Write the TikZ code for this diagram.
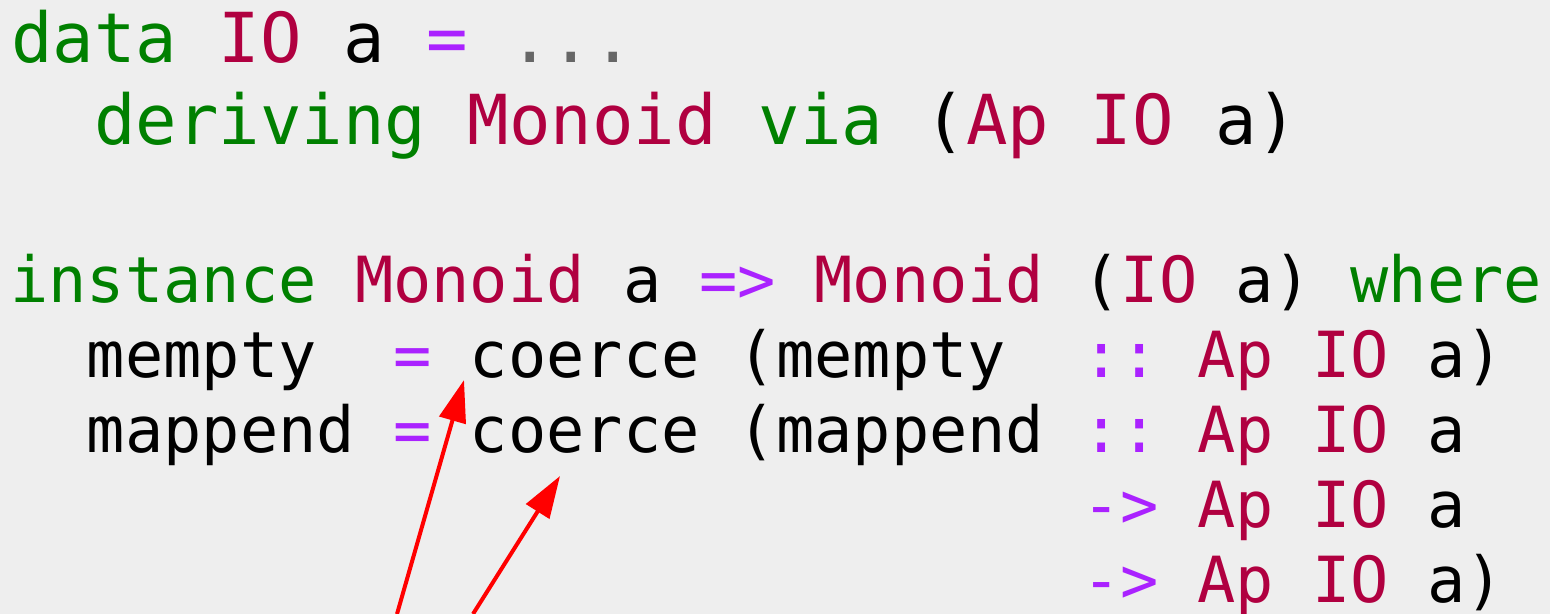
\documentclass[tikz,border=0pt]{standalone}
\usepackage{fontspec}
\usepackage{xcolor}
\usepackage{tikz}
\usetikzlibrary{arrows.meta, positioning}
\newfontfamily\codefont{DejaVu Sans Mono}
\definecolor{kwgreen}{RGB}{0, 128, 0}
\definecolor{typered}{RGB}{176, 0, 64}
\definecolor{oppurple}{RGB}{170, 34, 255}
\definecolor{dotgray}{RGB}{102, 102, 102}
\definecolor{codebg}{RGB}{238, 238, 238}
\newcommand{\kw}[1]{\textcolor{kwgreen}{#1}}
\newcommand{\ty}[1]{\textcolor{typered}{#1}}
\newcommand{\op}[1]{\textcolor{oppurple}{#1}}
\frenchspacing

\begin{document}
\begin{tikzpicture}[x=0.5pt, y=-0.5pt,
    codebig/.style={anchor=base west, inner sep=0pt, font=\codefont\fontsize{34.47}{40}\selectfont},
    codesmall/.style={anchor=base west, inner sep=0pt, font=\codefont\fontsize{31.8}{38}\selectfont},
    arrow/.style={->, red, line width=2pt, >={Triangle[length=21pt, width=13.5pt]}}
]
    \fill[codebg] (0,0) rectangle (1550,614);
    \useasboundingbox (0,0) rectangle (1550,614);

    % Data declaration
    \node[codebig] (dataline) at (11,63) {\kw{data} \ty{IO} a \op{=} \textcolor{dotgray}{...}};
    \node[codebig] (derivline) at (11,145) {~~\kw{deriving} \ty{Monoid} \kw{via} (\ty{Ap} \ty{IO} a)};

    % Instance by hand
    \node[codesmall] (instline) at (10,302) {\kw{instance} \ty{Monoid} a \op{=>} \ty{Monoid} (\ty{IO} a) \kw{where}};
    \node[codesmall] (memptyline) at (10,377) {~~mempty~~\op{=} coerce (mempty~~\op{::} \ty{Ap} \ty{IO} a)};
    \node[codesmall] (mappendline) at (10,452) {~~mappend \op{=} coerce (mappend \op{::} \ty{Ap} \ty{IO} a};
    \node[codesmall] (argline) at (1082,527) {\op{->} \ty{Ap} \ty{IO} a};
    \node[codesmall] (resline) at (1082,602) {\op{->} \ty{Ap} \ty{IO} a)};

    % Pointers to the coercions
    \coordinate (tailA) at (397,614);
    \coordinate (tailB) at (473,614);
    \coordinate (tipA) at (464,380);
    \coordinate (tipB) at (560,476);
    \draw[arrow] (tailA) -- (tipA);
    \draw[arrow] (tailB) -- (tipB);
\end{tikzpicture}
\end{document}
